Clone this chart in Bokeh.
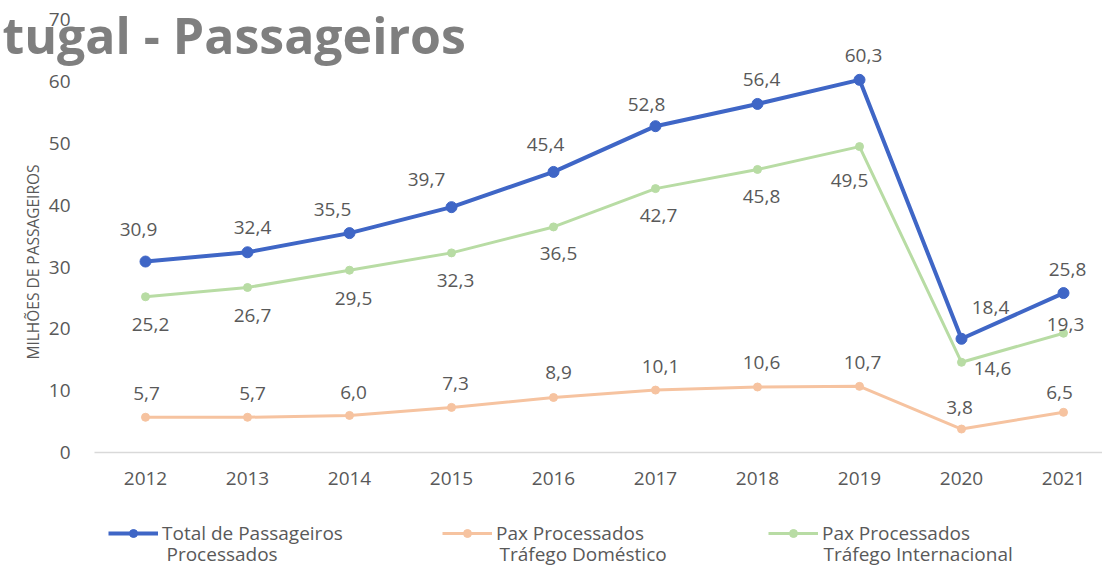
import math
from bokeh.plotting import figure
from bokeh.models import (ColumnDataSource, FixedTicker, Range1d, Label, Legend,
                          LegendItem, CustomJSTickFormatter)
from bokeh.core.properties import value
from bokeh.embed import file_html
from bokeh.resources import INLINE

# ---- data ----
years = [2012, 2013, 2014, 2015, 2016, 2017, 2018, 2019, 2020, 2021]
total = [30.9, 32.4, 35.5, 39.7, 45.4, 52.8, 56.4, 60.3, 18.4, 25.8]
domestico = [5.7, 5.7, 6.0, 7.3, 8.9, 10.1, 10.6, 10.7, 3.8, 6.5]
internacional = [25.2, 26.7, 29.5, 32.3, 36.5, 42.7, 45.8, 49.5, 14.6, 19.3]
y_ticks = [0, 10, 20, 30, 40, 50, 60, 70]
legend_line1 = ["Total de Passageiros", "Pax Processados", "Pax Processados"]
legend_line2 = ["Processados", "Tráfego Doméstico", "Tráfego Internacional"]
title_text = "tugal - Passageiros"
y_label = "MILHÕES DE PASSAGEIROS"

# ---- label offsets (style, pixels; +y = down) ----
tot_dx = [-7, 5, -17, -25, -8, -9, 4, 4, 29, 4]
tot_dy = [-32, -25, -24, -28, -27, -22, -24, -24, -31, -24]
int_dx = [5, 5, 4, 4, 5, 3, 4, -10, 31, 2]
int_dy = [28, 28, 28, 28, 27, 27, 27, 34, 6, -9]
dom_dx = [1, 5, 4, 4, 5, 5, 4, 3, -2, -4]
dom_dy = [-24, -24, -23, -24, -25, -24, -24, -24, -22, -20]
legend_x_px = [108, 442, 768]          # left of each legend sample line
legend_line2_x_px = [166, 499, 823]    # left of the second text lines

BLUE = "#3F66C6"
ORANGE = "#F6C3A0"
GREEN = "#B8DCA4"
TXT = "#595959"
FONT = "Open Sans"

W, H = 1102, 565
PX_YEAR = 102.0          # pixels per year
PX_UNIT = 6.18           # pixels per million
X0_PX, Y0_PX = 145.0, 452.0   # pixel position of first year / zero line

x_start = years[0] - X0_PX / PX_YEAR
x_end = x_start + W / PX_YEAR
y_start = -(H - Y0_PX) / PX_UNIT
y_end = Y0_PX / PX_UNIT

def px_x(px):
    return x_start + px / PX_YEAR

def px_y(py):
    return (Y0_PX - py) / PX_UNIT

def fmt(v):
    return f"{v:.1f}".replace(".", ",")

p = figure(width=W, height=H, output_backend="svg", toolbar_location=None,
           x_range=Range1d(x_start, x_end), y_range=Range1d(y_start, y_end),
           min_border=0)
p.outline_line_color = None
p.xgrid.grid_line_color = None
p.ygrid.grid_line_color = None
p.background_fill_color = "white"

# axes drawn inside the full-canvas frame
p.xaxis.fixed_location = 0
p.xaxis.bounds = (years[0] - 0.5, years[-1] + 0.5)
p.yaxis.fixed_location = years[0] - 0.5
p.xaxis.ticker = FixedTicker(ticks=years)
p.yaxis.ticker = FixedTicker(ticks=y_ticks)
for ax in (p.xaxis[0], p.yaxis[0]):
    ax.major_tick_line_color = None
    ax.minor_tick_line_color = None
    ax.major_label_text_font = FONT
    ax.major_label_text_font_size = "19px"
    ax.major_label_text_color = TXT
p.yaxis.axis_line_color = None
p.yaxis.major_label_standoff = 18
p.xaxis.axis_line_color = "#D9D9D9"
p.xaxis.axis_line_width = 1.5
p.xaxis.major_label_standoff = 13
p.xaxis.formatter = CustomJSTickFormatter(code="return tick.toFixed(0);")

r_tot_l = p.line(years, total, line_color=BLUE, line_width=4)
r_tot_m = p.scatter(years, total, size=11, fill_color=BLUE, line_color=BLUE)
r_dom_l = p.line(years, domestico, line_color=ORANGE, line_width=3)
r_dom_m = p.scatter(years, domestico, size=8, fill_color=ORANGE, line_color=ORANGE)
r_int_l = p.line(years, internacional, line_color=GREEN, line_width=3)
r_int_m = p.scatter(years, internacional, size=8, fill_color=GREEN, line_color=GREEN)

def labels(vals, dx, dy):
    src = ColumnDataSource(dict(x=years, y=vals, t=[fmt(v) for v in vals], dx=dx, dy=dy))
    p.text(x="x", y="y", text="t", x_offset="dx", y_offset="dy", source=src,
           text_align="center", text_baseline="middle", text_color=TXT,
           text_font=value(FONT), text_font_size="19px")

labels(total, tot_dx, tot_dy)
labels(internacional, int_dx, int_dy)
labels(domestico, dom_dx, dom_dy)

# title (cropped at the left edge in the reference)
p.add_layout(Label(x=px_x(2), y=px_y(34), text=title_text,
                   text_font=FONT, text_font_size="50px", text_font_style="bold",
                   text_color="#7F7F7F", text_baseline="alphabetic", text_align="left"))

# y axis title
p.add_layout(Label(x=px_x(32.5), y=px_y(261.5), text=y_label,
                   angle=math.pi / 2, text_align="center", text_baseline="middle",
                   text_font=FONT, text_font_size="15.5px", text_color=TXT))

# legend: one legend per series so each sits where the reference has it
renderers = [[r_tot_l, r_tot_m], [r_dom_l, r_dom_m], [r_int_l, r_int_m]]
for i in range(3):
    lg = Legend(items=[LegendItem(label=legend_line1[i], renderers=renderers[i])],
                orientation="horizontal", location=(legend_x_px[i], 19),
                glyph_width=50, glyph_height=20, label_standoff=4, spacing=0,
                padding=0, margin=0, border_line_alpha=0, background_fill_alpha=0,
                label_text_font=FONT, label_text_font_size="19px",
                label_text_color=TXT)
    p.add_layout(lg, "center")
    p.add_layout(Label(x=px_x(legend_line2_x_px[i]), y=px_y(553), text=legend_line2[i],
                       text_align="left", text_baseline="middle", text_font=FONT,
                       text_font_size="19px", text_color=TXT))

open("out.html", "w").write(file_html(p, INLINE))
